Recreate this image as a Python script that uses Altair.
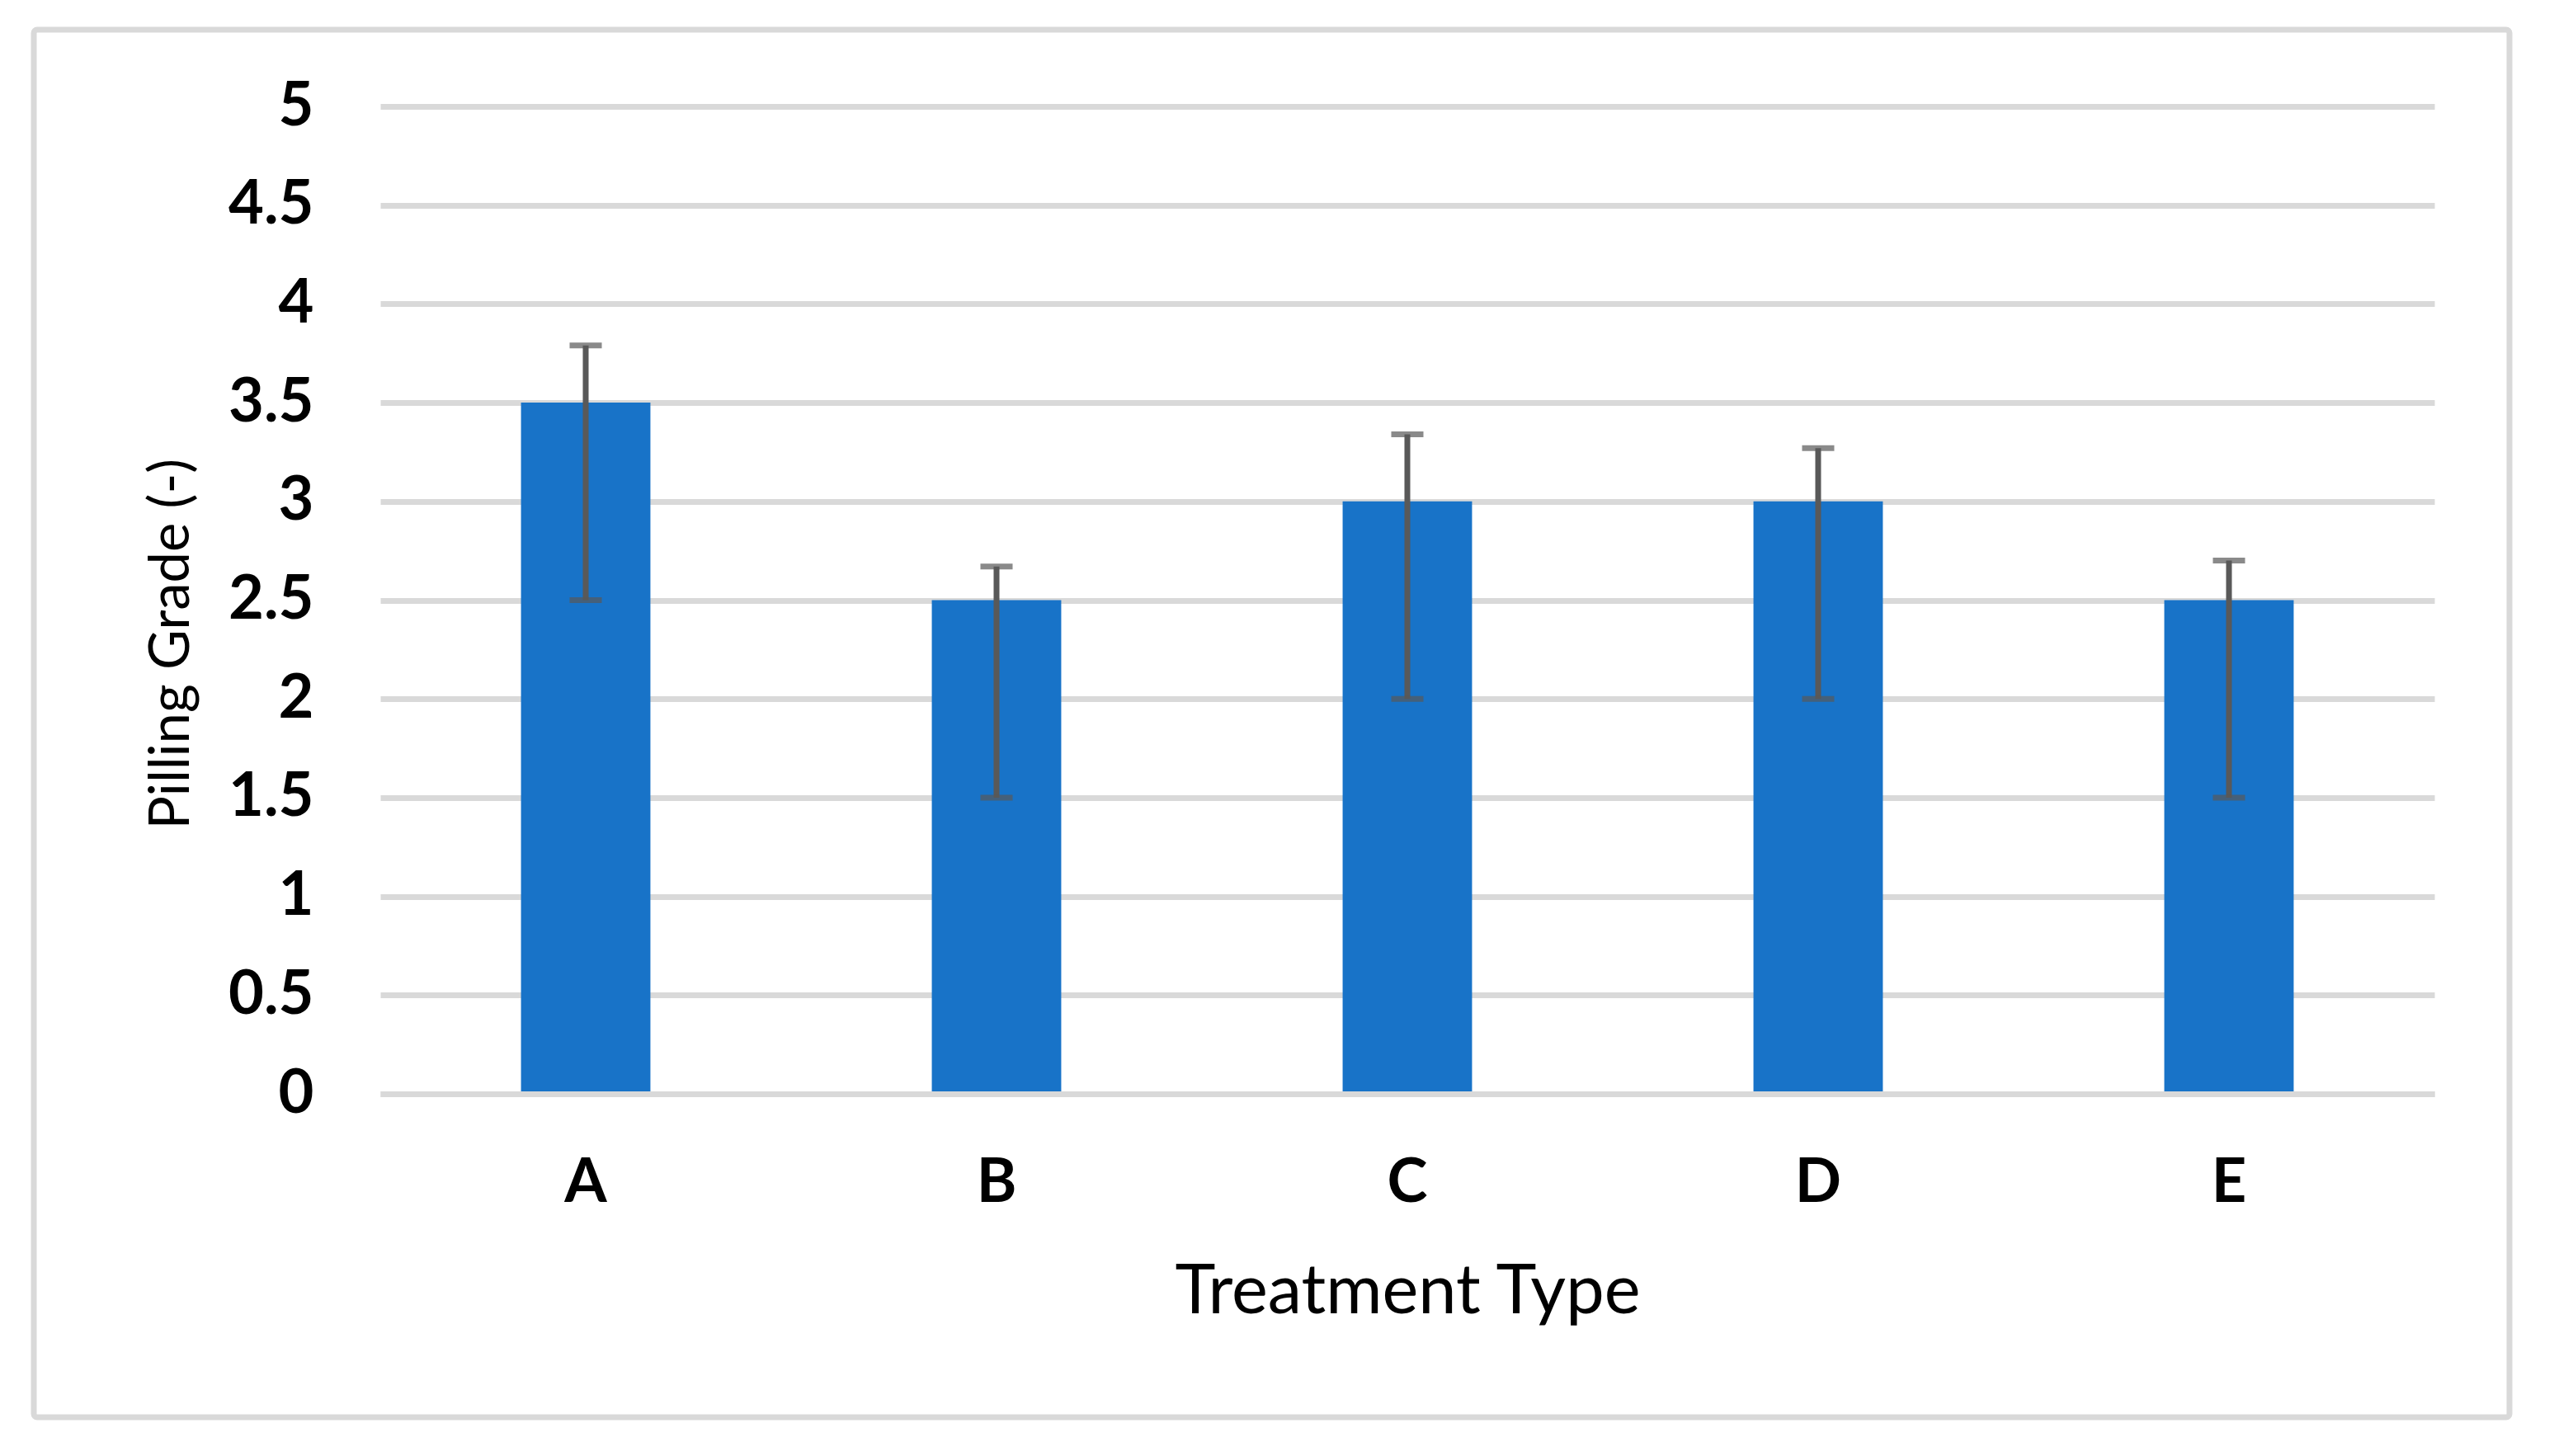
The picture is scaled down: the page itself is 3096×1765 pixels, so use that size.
import altair as alt
import pandas as pd

categories = ["A", "B", "C", "D", "E"]
grades = [3.5, 2.5, 3.0, 3.0, 2.5]
err_low = [2.5, 1.5, 2.0, 2.0, 1.5]
err_high = [3.79, 2.67, 3.34, 3.27, 2.70]
y_ticks = [0, 0.5, 1, 1.5, 2, 2.5, 3, 3.5, 4, 4.5, 5]

df = pd.DataFrame({"cat": categories, "grade": grades, "lo": err_low, "hi": err_high})

W, H = 2490, 1197
FONT = "Lato"

xscale = alt.Scale(domain=categories, paddingInner=0.685, paddingOuter=0.3425)
yscale = alt.Scale(domain=[0, 5], nice=False)

x_enc = alt.X("cat:N", scale=xscale, sort=categories,
              axis=alt.Axis(title="Treatment Type", labelAngle=0, labelFont=FONT,
                            labelFontSize=74, labelFontWeight="bold", labelColor="#000000",
                            labelPadding=72, ticks=False, domain=True, domainColor="#d9d9d9",
                            domainWidth=7, grid=False, titleFont=FONT, titleFontSize=83,
                            titleFontWeight="normal", titleColor="#000000", titlePadding=54,
                            zindex=1))
y_axis = alt.Axis(title="Pilling Grade (-)", values=y_ticks, format="~g", labelFont=FONT,
                  labelFontSize=74, labelFontWeight="bold", labelColor="#000000",
                  labelPadding=81, labelBaseline="middle", ticks=False, domain=False,
                  grid=True, gridColor="#d9d9d9", gridWidth=7, gridCap="butt", titleFont=FONT,
                  titleFontSize=67, titleFontWeight="normal", titleColor="#000000",
                  titleAngle=-90, titleAlign="center", titleBaseline="alphabetic",
                  titleX=-233, titleY=651)

base = alt.Chart(df)

frame = base.mark_rect(fill=None, stroke="#d9d9d9", strokeWidth=7, cornerRadius=4).encode(
    x=alt.value(-420), x2=alt.value(2581), y=alt.value(-93), y2=alt.value(1589)
).transform_filter(alt.datum.cat == "A")

bars = base.mark_bar(color="#1873c8").encode(
    x=x_enc,
    y=alt.Y("grade:Q", scale=yscale, axis=y_axis),
)

rules = base.mark_rule(color="#595959", strokeWidth=7).encode(
    x=alt.X("cat:N", scale=xscale, sort=categories),
    y=alt.Y("lo:Q", scale=yscale),
    y2="hi:Q",
)

caps = base.mark_tick(color="#595959", thickness=7, size=39).encode(
    x=alt.X("cat:N", scale=xscale, sort=categories),
    y=alt.Y("hi:Q", scale=yscale),
)
caps_lo = base.mark_tick(color="#595959", thickness=7, size=39).encode(
    x=alt.X("cat:N", scale=xscale, sort=categories),
    y=alt.Y("lo:Q", scale=yscale),
)

chart = alt.layer(frame, bars, rules, caps, caps_lo).properties(
    width=W, height=H,
    background="#ffffff",
    padding={"left": 453, "top": 121, "right": 130, "bottom": 420},
    autosize=alt.AutoSizeParams(type="none"),
).configure_view(stroke=None)

chart.save("out.html", embed_options={"renderer": "svg", "actions": False})
